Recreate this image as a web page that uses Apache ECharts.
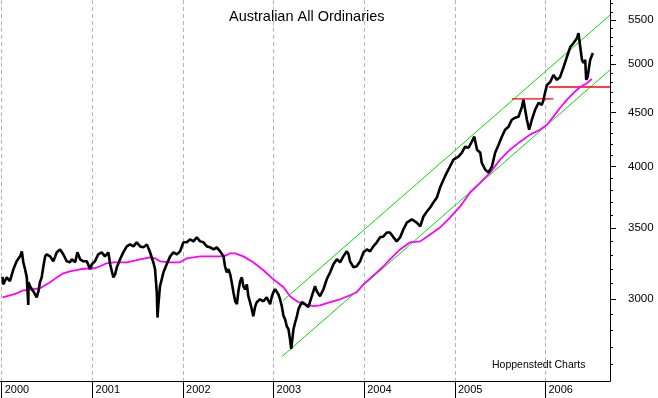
<!DOCTYPE html>
<html>
<head>
<meta charset="utf-8">
<script src="https://cdn.jsdelivr.net/npm/echarts@6/dist/echarts.min.js"></script>
<style>
  html, body { margin: 0; padding: 0; background: #fff; }
  #chart { width: 658px; height: 398px; }
</style>
</head>
<body>
<div id="chart"></div>
<script>
var chartDom = document.getElementById('chart');
var myChart = echarts.init(chartDom);
var option;

// All Ordinaries (roughly weekly / fortnightly closes)
const priceDates = [
  '2000-01-04','2000-01-07','2000-01-21','2000-02-03','2000-02-17','2000-03-01','2000-03-15','2000-03-22',
  '2000-03-28','2000-04-04','2000-04-11','2000-04-17','2000-04-18','2000-04-24','2000-05-07','2000-05-21',
  '2000-05-28','2000-06-03','2000-06-10','2000-06-17','2000-06-24','2000-06-30','2000-07-14','2000-07-27',
  '2000-08-10','2000-08-23','2000-09-05','2000-09-19','2000-10-02','2000-10-09','2000-10-23','2000-11-01',
  '2000-11-12','2000-11-25','2000-12-09','2000-12-22','2000-12-29','2001-01-11','2001-01-24','2001-02-07',
  '2001-02-20','2001-03-06','2001-03-13','2001-03-26','2001-04-02','2001-04-09','2001-04-22','2001-05-05',
  '2001-05-19','2001-06-01','2001-06-15','2001-06-28','2001-07-12','2001-07-25','2001-08-08','2001-08-21',
  '2001-09-03','2001-09-10','2001-09-17','2001-09-20','2001-09-23','2001-09-30','2001-10-14','2001-10-27',
  '2001-11-10','2001-11-23','2001-12-07','2001-12-20','2002-01-02','2002-01-16','2002-01-29','2002-02-12',
  '2002-02-25','2002-03-11','2002-03-24','2002-04-07','2002-04-20','2002-05-04','2002-05-17','2002-05-30',
  '2002-06-13','2002-06-19','2002-06-26','2002-07-03','2002-07-10','2002-07-16','2002-07-23','2002-07-30',
  '2002-08-06','2002-08-12','2002-08-19','2002-08-26','2002-09-01','2002-09-08','2002-09-15','2002-09-21',
  '2002-09-28','2002-10-05','2002-10-11','2002-10-18','2002-10-25','2002-11-07','2002-11-21','2002-12-04',
  '2002-12-18','2002-12-25','2002-12-31','2003-01-07','2003-01-14','2003-01-20','2003-01-27','2003-02-03',
  '2003-02-10','2003-02-16','2003-02-23','2003-03-02','2003-03-08','2003-03-13','2003-03-22','2003-03-29',
  '2003-04-05','2003-04-11','2003-04-25','2003-05-08','2003-05-21','2003-06-04','2003-06-17','2003-06-24',
  '2003-07-07','2003-07-21','2003-08-03','2003-08-17','2003-08-30','2003-09-13','2003-09-26','2003-10-09',
  '2003-10-23','2003-10-30','2003-11-05','2003-11-19','2003-12-02','2003-12-16','2003-12-29','2004-01-12',
  '2004-01-25','2004-02-07','2004-02-21','2004-03-05','2004-03-19','2004-04-01','2004-04-14','2004-04-28',
  '2004-05-11','2004-05-25','2004-06-07','2004-06-21','2004-07-11','2004-07-31','2004-08-14','2004-08-27',
  '2004-09-10','2004-09-23','2004-10-06','2004-10-20','2004-11-02','2004-11-16','2004-11-29','2004-12-12',
  '2004-12-26','2005-01-15','2005-01-29','2005-02-11','2005-02-25','2005-03-10','2005-03-20','2005-03-31',
  '2005-04-13','2005-04-19','2005-05-03','2005-05-16','2005-05-30','2005-06-12','2005-06-26','2005-07-09',
  '2005-07-22','2005-08-05','2005-08-18','2005-09-01','2005-09-14','2005-09-28','2005-10-04','2005-10-11',
  '2005-10-18','2005-10-27','2005-11-07','2005-11-20','2005-12-04','2005-12-17','2005-12-24','2005-12-31',
  '2006-01-07','2006-01-20','2006-02-02','2006-02-16','2006-03-01','2006-03-15','2006-03-28','2006-04-11',
  '2006-04-24','2006-05-08','2006-05-14','2006-05-21','2006-05-28','2006-06-03','2006-06-10','2006-06-14',
  '2006-06-20','2006-06-24','2006-06-30','2006-07-11'
];
const priceValues = [
  3146, 3096, 3143, 3117, 3199, 3255, 3290, 3326,
  3248, 3199, 3143, 2960, 3110, 3083, 3050, 3010,
  3050, 3110, 3143, 3220, 3290, 3305, 3290, 3255,
  3319, 3340, 3305, 3255, 3248, 3269, 3248, 3319,
  3269, 3255, 3255, 3199, 3234, 3255, 3305, 3319,
  3290, 3319, 3234, 3143, 3164, 3213, 3269, 3319,
  3362, 3377, 3362, 3392, 3362, 3355, 3377, 3319,
  3248, 3199, 3043, 2880, 2952, 3083, 3178, 3234,
  3290, 3319, 3305, 3326, 3392, 3392, 3414, 3399,
  3429, 3399, 3392, 3362, 3355, 3340, 3355, 3326,
  3290, 3220, 3178, 3199, 3164, 3110, 3043, 2984,
  2965, 3050, 3117, 3143, 3083, 3063, 3096, 3017,
  2978, 2933, 2889, 2946, 2978, 2997, 2984, 3010,
  2965, 3017, 3043, 3063, 3050, 3030, 2997, 2952,
  2889, 2870, 2826, 2808, 2748, 2690, 2808, 2851,
  2889, 2933, 2978, 2965, 2946, 3017, 3083, 3050,
  3017, 3063, 3130, 3178, 3234, 3269, 3248, 3290,
  3326, 3305, 3255, 3213, 3220, 3255, 3319, 3340,
  3326, 3362, 3392, 3429, 3436, 3465, 3465, 3429,
  3399, 3429, 3488, 3541, 3565, 3541, 3511, 3588,
  3627, 3659, 3699, 3739, 3821, 3888, 3947, 4000,
  4060, 4087, 4122, 4176, 4167, 4222, 4268, 4149,
  4122, 4033, 3973, 3947, 4000, 4122, 4194, 4268,
  4333, 4362, 4428, 4448, 4457, 4554, 4624, 4525,
  4428, 4333, 4428, 4525, 4594, 4574, 4624, 4705,
  4775, 4806, 4880, 4829, 4860, 4966, 5075, 5187,
  5232, 5288, 5346, 5187, 5043, 5012, 5043, 4830,
  4860, 4935, 5043, 5120
];

// moving average (magenta)
const maDates = [
  '2000-01-04','2000-02-03','2000-03-01','2000-03-28','2000-05-07','2000-06-03','2000-07-14','2000-08-10',
  '2000-09-05','2000-10-02','2000-11-12','2000-12-22','2001-01-11','2001-01-31','2001-02-27','2001-03-26',
  '2001-05-19','2001-07-12','2001-08-21','2001-09-10','2001-09-30','2001-11-10','2001-12-20','2002-01-16',
  '2002-03-11','2002-05-30','2002-06-26','2002-07-10','2002-07-30','2002-09-01','2002-10-11','2002-11-21',
  '2002-12-31','2003-02-10','2003-03-08','2003-04-05','2003-05-01','2003-06-10','2003-07-07','2003-08-17',
  '2003-09-26','2003-11-05','2003-12-02','2003-12-29','2004-01-25','2004-02-21','2004-03-19','2004-04-14',
  '2004-05-25','2004-07-04','2004-08-14','2004-09-23','2004-11-02','2004-12-12','2005-01-22','2005-03-03',
  '2005-04-13','2005-05-23','2005-07-02','2005-08-11','2005-09-21','2005-10-31','2005-12-10','2006-01-07',
  '2006-02-02','2006-03-01','2006-03-28','2006-04-24','2006-05-21','2006-06-17','2006-07-07'
];
const maValues = [
  3010, 3023, 3036, 3056, 3063, 3070, 3110, 3143,
  3171, 3185, 3199, 3206, 3206, 3220, 3241, 3248,
  3248, 3269, 3283, 3276, 3255, 3248, 3248, 3276,
  3290, 3290, 3298, 3312, 3312, 3290, 3248, 3192,
  3130, 3076, 3017, 2984, 2965, 2952, 2958, 2978,
  2997, 3023, 3043, 3096, 3136, 3178, 3220, 3269,
  3340, 3392, 3399, 3451, 3503, 3580, 3667, 3780,
  3863, 3947, 4060, 4149, 4222, 4287, 4333, 4380,
  4458, 4545, 4624, 4694, 4755, 4793, 4840
];

// trend channel (green) and support levels (red)
const channelUpper = [['2003-02-09', 2990], ['2006-09-18', 5560]];
const channelLower = [['2003-02-03', 2645], ['2006-09-18', 4935]];
const levelOne = [['2005-08-18', 4634], ['2006-02-02', 4634]];
const levelTwo = [['2006-01-14', 4755], ['2006-09-18', 4755]];

const yearTicks = ['2000-01-01','2001-01-01','2002-01-01','2003-01-01','2004-01-01','2005-01-01','2006-01-01'];
const xStart = '1999-12-25';
const xEnd = '2006-09-18';
const majorTicks = [3000, 3500, 4000, 4500, 5000, 5500];
const minorTicks = [2600, 2700, 2800, 2900, 3000, 3100, 3200, 3300, 3400, 3500, 3600, 3700, 3800, 3900,
  4000, 4100, 4200, 4300, 4400, 4500, 4600, 4700, 4800, 4900, 5000, 5100, 5200, 5300, 5400, 5500, 5600, 5700];
const yBottom = 2509;
const yTop = 5745;

// dates -> UTC ms on a plain value axis; prices -> ln(value) so the y axis is logarithmic
function toTime(s) { return Date.parse(s + 'T00:00:00Z'); }
function toPairs(dates, values) {
  return dates.map((d, i) => [toTime(d), Math.log(values[i])]);
}
function linePairs(pairs) {
  return pairs.map(p => [toTime(p[0]), Math.log(p[1])]);
}
const priceData = toPairs(priceDates, priceValues);
const maData = toPairs(maDates, maValues);

const font = 'Liberation Sans, Arial, sans-serif';

option = {
  backgroundColor: '#fff',
  animation: false,
  title: [
    {
      text: 'Australian All Ordinaries',
      left: 229, top: 9, padding: 0,
      textStyle: { fontSize: 14.5, fontWeight: 'normal', color: '#000', fontFamily: font }
    },
    {
      text: 'Hoppenstedt Charts',
      left: 492, top: 360, padding: 0,
      textStyle: { fontSize: 10.5, fontWeight: 'normal', color: '#000', fontFamily: font }
    }
  ],
  grid: { left: 0, right: 48, top: 0, bottom: 17, containLabel: false },
  xAxis: {
    type: 'value',
    min: toTime(xStart),
    max: toTime(xEnd),
    axisLine: { show: true, lineStyle: { color: '#000', width: 1 } },
    axisTick: { show: true, customValues: yearTicks.map(toTime), length: 17, lineStyle: { color: '#000' } },
    axisLabel: {
      customValues: yearTicks.map(toTime),
      formatter: v => String(new Date(v).getUTCFullYear()),
      align: 'left', padding: [0, 0, 0, 3], margin: 3,
      color: '#000', fontSize: 11, fontFamily: font
    },
    splitLine: { show: true, lineStyle: { color: '#b4b4b4', type: [4, 3], width: 1 } }
  },
  yAxis: [
    {
      type: 'value',
      position: 'right',
      min: Math.log(yBottom),
      max: Math.log(yTop),
      axisLine: { show: true, lineStyle: { color: '#000', width: 1 } },
      axisTick: { show: true, length: 6, customValues: majorTicks.map(Math.log), lineStyle: { color: '#000' } },
      axisLabel: {
        customValues: majorTicks.map(Math.log),
        formatter: v => String(Math.round(Math.exp(v))),
        margin: 18, align: 'left',
        color: '#000', fontSize: 11.5, fontFamily: font
      },
      splitLine: { show: false }
    },
    {
      type: 'value',
      position: 'right',
      min: Math.log(yBottom),
      max: Math.log(yTop),
      axisLine: { show: false },
      axisTick: { show: true, length: 3, customValues: minorTicks.map(Math.log), lineStyle: { color: '#000' } },
      axisLabel: { show: false },
      splitLine: { show: false }
    }
  ],
  series: [
    {
      name: 'Upper channel', type: 'line', data: linePairs(channelUpper),
      showSymbol: false, silent: true, z: 2,
      lineStyle: { color: '#00e000', width: 1 }
    },
    {
      name: 'Lower channel', type: 'line', data: linePairs(channelLower),
      showSymbol: false, silent: true, z: 2,
      lineStyle: { color: '#00e000', width: 1 }
    },
    {
      name: 'Level 1', type: 'line', data: linePairs(levelOne),
      showSymbol: false, silent: true, z: 2,
      lineStyle: { color: '#ff0000', width: 1.3 }
    },
    {
      name: 'Level 2', type: 'line', data: linePairs(levelTwo),
      showSymbol: false, silent: true, z: 2,
      lineStyle: { color: '#ff0000', width: 1.3 }
    },
    {
      name: 'Average', type: 'line', data: maData,
      showSymbol: false, silent: true, z: 3,
      lineStyle: { color: '#ff00ff', width: 1.8 }
    },
    {
      name: 'All Ordinaries', type: 'line', data: priceData,
      showSymbol: false, silent: true, z: 4,
      lineStyle: { color: '#000', width: 2.6 }
    }
  ]
};

option && myChart.setOption(option);
</script>
</body>
</html>
